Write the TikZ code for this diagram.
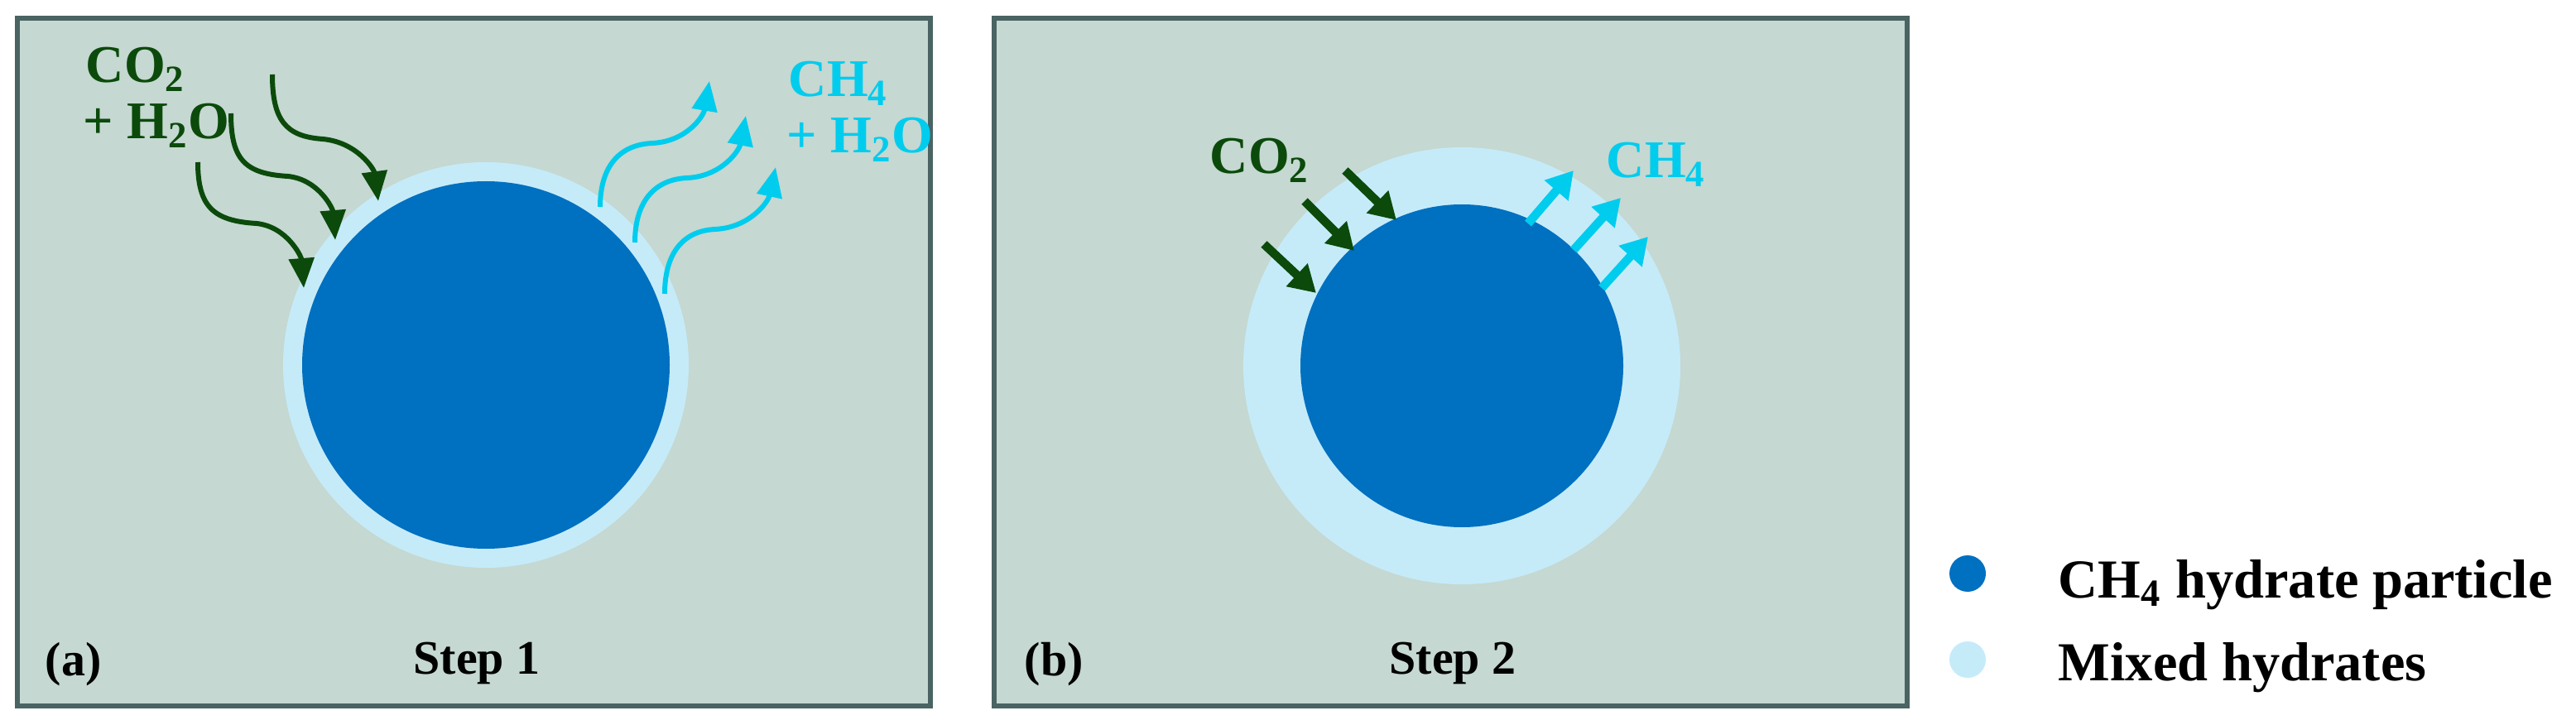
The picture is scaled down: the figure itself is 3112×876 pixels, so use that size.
\documentclass[tikz,border=0pt]{standalone}
\usepackage{fontspec}
\setmainfont{Liberation Serif}
\usetikzlibrary{arrows.meta}
\definecolor{bgc}{HTML}{C5D8D1}
\definecolor{brd}{HTML}{4A6363}
\definecolor{dblue}{HTML}{0070C0}
\definecolor{lblue}{HTML}{C5EBF9}
\definecolor{dgreen}{HTML}{0B4A0B}
\definecolor{cyanc}{HTML}{00CCEE}
\begin{document}
\begin{tikzpicture}[x=0.25pt,y=-0.25pt,
  panel/.style={draw=brd,line width=1.3pt,fill=bgc},
  lbl/.style={font=\fontsize{16}{18}\selectfont\bfseries,inner sep=0pt,anchor=base west},
  wavy/.style={line width=1.5pt,-{Triangle[length=9pt,width=7.5pt]}},
  straight/.style={line width=2.6pt,-{Triangle[length=8pt,width=9pt]}}]
\useasboundingbox (0,0) rectangle (3112,876);
\fill[white] (0,0) rectangle (3112,876);
% panels
\draw[panel] (21,22) rectangle (1124,853);
\draw[panel] (1201,22) rectangle (2304,853);
% circles
\fill[lblue] (587,441) circle[radius=245];
\fill[dblue] (587,441) circle[radius=222];
\fill[lblue] (1766,442) circle[radius=264];
\fill[dblue] (1766,442) circle[radius=195];
% panel a texts
\node[lbl,text=dgreen] (aco2) at (103,100) {CO\textsubscript{2}};
\node[lbl,text=dgreen] (ah2o) at (100,168) {+ H\textsubscript{2}O};
\node[lbl,text=cyanc] (ach4) at (952,117) {CH\textsubscript{4}};
\node[lbl,text=cyanc] (ah2ob) at (950,185) {+ H\textsubscript{2}O};
% green wavy arrows
\draw[wavy,dgreen] (329,90) .. controls (329,145) and (345,165) .. (390,168) .. controls (432,172) and (452,205) .. (457,243);
\draw[wavy,dgreen] (279,137) .. controls (279,192) and (295,210) .. (348,213) .. controls (385,217) and (402,252) .. (405,290);
\draw[wavy,dgreen] (239,196) .. controls (239,250) and (258,267) .. (310,270) .. controls (347,274) and (364,310) .. (367,348);
% cyan wavy arrows
\draw[wavy,cyanc] (725,250) .. controls (725,205) and (745,175) .. (788,173) .. controls (830,171) and (850,140) .. (857,98);
\draw[wavy,cyanc] (767,293) .. controls (767,248) and (787,217) .. (830,215) .. controls (872,213) and (893,182) .. (901,140);
\draw[wavy,cyanc] (803,355) .. controls (803,310) and (822,279) .. (864,277) .. controls (906,275) and (928,244) .. (937,202);
% panel b
\node[lbl,text=dgreen] (bco2) at (1461,210) {CO\textsubscript{2}};
\node[lbl,text=cyanc] (bch4) at (1940,215) {CH\textsubscript{4}};
\draw[straight,dgreen] (1625,206) -- (1687,266);
\draw[straight,dgreen] (1576,243) -- (1636,303);
\draw[straight,dgreen] (1527,295) -- (1590,354);
\draw[straight,cyanc] (1846,270) -- (1901,206);
\draw[straight,cyanc] (1901,302) -- (1958,239);
\draw[straight,cyanc] (1935,348) -- (1991,286);
% step labels
\node[lbl,font=\fontsize{14.5}{16}\selectfont\bfseries] (pa) at (54,816) {(a)};
\node[lbl,font=\fontsize{14.5}{16}\selectfont\bfseries,anchor=base] (s1) at (576,814) {Step 1};
\node[lbl,font=\fontsize{14.5}{16}\selectfont\bfseries] (pb) at (1237,816) {(b)};
\node[lbl,font=\fontsize{14.5}{16}\selectfont\bfseries,anchor=base] (s2) at (1755,814) {Step 2};
% legend
\fill[dblue] (2377,693) circle[radius=22];
\fill[lblue] (2377,797) circle[radius=22];
\node[lbl,font=\fontsize{16.6}{18}\selectfont\bfseries] (l1) at (2486,722) {CH\textsubscript{4} hydrate particle};
\node[lbl,font=\fontsize{16.6}{18}\selectfont\bfseries] (l2) at (2486,822) {Mixed hydrates};
\end{tikzpicture}
\end{document}
